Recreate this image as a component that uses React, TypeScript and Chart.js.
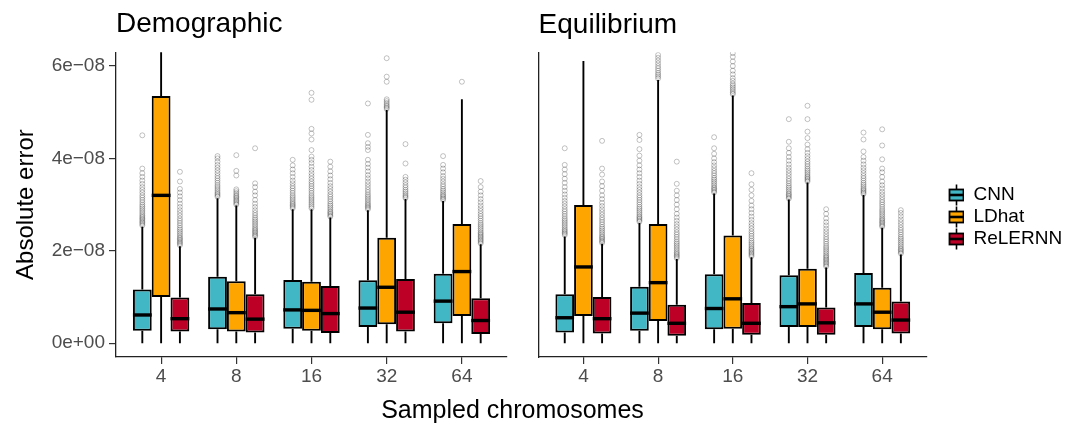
import React, { useEffect, useRef } from 'react';
import { Chart, registerables } from 'chart.js';

Chart.register(...registerables);

const FONT = "'Liberation Sans', Arial, Helvetica, sans-serif";

const CATEGORIES = ['4', '8', '16', '32', '64'];
const SERIES = ['CNN', 'LDhat', 'ReLERNN'];
const COLORS = ['#41B6C4', '#FFA500', '#BD0026'];
const PANEL_TITLES = ['Demographic', 'Equilibrium'];
const X_TITLE = 'Sampled chromosomes';
const Y_TITLE = 'Absolute error';
const Y_TICK_VALUES = [0, 2e-8, 4e-8, 6e-8];
const Y_TICK_LABELS = ['0e+00', '2e\u221208', '4e\u221208', '6e\u221208'];
const Y_MIN = -0.3e-8;
const Y_MAX = 6.3e-8;
const UNIT = 1e-8;

// Box statistics per category: [lower whisker, Q1, median, Q3, upper whisker], in units of 1e-8
const DEM_CNN_BOX = [[0, 0.27, 0.61, 1.16, 2.52], [0, 0.30, 0.74, 1.44, 3.14], [0, 0.31, 0.72, 1.37, 2.90], [0, 0.35, 0.76, 1.36, 2.88], [0, 0.43, 0.91, 1.50, 3.08]];
const DEM_LDHAT_BOX = [[0, 1.00, 3.20, 5.35, 6.60], [0, 0.25, 0.66, 1.34, 2.98], [0, 0.27, 0.71, 1.33, 2.90], [0, 0.41, 1.21, 2.28, 5.05], [0, 0.59, 1.55, 2.58, 5.28]];
const DEM_RELERNN_BOX = [[0, 0.25, 0.53, 0.99, 2.10], [0, 0.23, 0.52, 1.06, 2.28], [0, 0.22, 0.64, 1.24, 2.72], [0, 0.25, 0.67, 1.39, 3.12], [0, 0.20, 0.49, 0.97, 2.14]];
const EQ_CNN_BOX = [[0, 0.23, 0.55, 1.06, 2.31], [0, 0.27, 0.65, 1.22, 2.60], [0, 0.30, 0.75, 1.49, 3.24], [0, 0.35, 0.79, 1.47, 3.11], [0, 0.35, 0.85, 1.52, 3.21]];
const EQ_LDHAT_BOX = [[0, 0.59, 1.65, 2.99, 6.11], [0, 0.48, 1.31, 2.58, 5.70], [0, 0.31, 0.96, 2.33, 5.36], [0, 0.35, 0.85, 1.61, 3.48], [0, 0.30, 0.67, 1.20, 2.50]];
const EQ_RELERNN_BOX = [[0, 0.21, 0.53, 1.00, 2.15], [0, 0.16, 0.43, 0.83, 1.82], [0, 0.18, 0.43, 0.87, 1.86], [0, 0.18, 0.44, 0.77, 1.64], [0, 0.21, 0.50, 0.90, 1.92]];

// Outliers per category, in units of 1e-8
const DEM_CNN_OUT = [
  [2.55, 2.58, 2.61, 2.64, 2.67, 2.7, 2.73, 2.76, 2.8, 2.84, 2.88, 2.92, 2.96, 3.0, 3.05, 3.1, 3.15, 3.2, 3.26, 3.32, 3.38, 3.45, 3.52, 3.6, 3.68, 3.78, 4.5],
  [3.17, 3.2, 3.23, 3.26, 3.3, 3.34, 3.38, 3.42, 3.47, 3.52, 3.57, 3.62, 3.68, 3.74, 3.8, 3.86, 3.93, 4.0, 4.05],
  [2.92, 2.95, 2.98, 3.01, 3.04, 3.08, 3.12, 3.16, 3.2, 3.25, 3.3, 3.35, 3.4, 3.46, 3.52, 3.6, 3.68, 3.76, 3.85, 3.97],
  [2.9, 2.93, 2.96, 2.99, 3.02, 3.06, 3.1, 3.14, 3.18, 3.22, 3.27, 3.32, 3.38, 3.44, 3.5, 3.57, 3.64, 3.72, 3.8, 3.88, 3.97, 4.18, 4.25, 4.33, 4.51, 5.19],
  [3.1, 3.13, 3.16, 3.19, 3.22, 3.26, 3.3, 3.34, 3.39, 3.44, 3.5, 3.56, 3.62, 3.7, 3.78, 3.86, 4.05],
];
const DEM_LDHAT_OUT = [
  [],
  [3.0, 3.03, 3.06, 3.09, 3.12, 3.15, 3.18, 3.21, 3.25, 3.29, 3.33, 3.63, 3.73, 4.07],
  [2.92, 2.96, 3.0, 3.04, 3.08, 3.12, 3.16, 3.2, 3.25, 3.3, 3.35, 3.4, 3.45, 3.5, 3.56, 3.62, 3.68, 3.75, 3.82, 3.9, 3.97, 4.04, 4.18, 4.41, 4.54, 4.64, 5.27, 5.42],
  [5.07, 5.1, 5.13, 5.16, 5.2, 5.24, 5.28, 5.66, 5.77, 6.17],
  [5.66],
];
const DEM_RELERNN_OUT = [
  [2.12, 2.15, 2.18, 2.21, 2.24, 2.27, 2.3, 2.34, 2.38, 2.42, 2.46, 2.5, 2.55, 2.6, 2.65, 2.7, 2.76, 2.82, 2.88, 2.95, 3.02, 3.1, 3.18, 3.26, 3.34, 3.5, 3.71],
  [2.3, 2.33, 2.36, 2.39, 2.42, 2.45, 2.48, 2.52, 2.56, 2.6, 2.64, 2.68, 2.72, 2.77, 2.82, 2.88, 2.95, 3.02, 3.1, 3.2, 3.28, 3.38, 3.46, 4.22],
  [2.74, 2.77, 2.8, 2.83, 2.86, 2.9, 2.94, 2.98, 3.02, 3.07, 3.12, 3.17, 3.22, 3.28, 3.34, 3.4, 3.47, 3.55, 3.63, 3.72, 3.82, 3.93],
  [3.14, 3.17, 3.2, 3.24, 3.28, 3.32, 3.37, 3.42, 3.48, 3.54, 3.6, 3.89, 4.31],
  [2.16, 2.19, 2.22, 2.25, 2.28, 2.31, 2.34, 2.37, 2.4, 2.44, 2.48, 2.52, 2.56, 2.6, 2.65, 2.7, 2.75, 2.8, 2.86, 2.92, 2.98, 3.05, 3.12, 3.2, 3.28, 3.38, 3.51],
];
const EQ_CNN_OUT = [
  [2.34, 2.37, 2.4, 2.43, 2.46, 2.5, 2.54, 2.58, 2.62, 2.66, 2.7, 2.75, 2.8, 2.85, 2.9, 2.96, 3.02, 3.08, 3.15, 3.22, 3.3, 3.38, 3.47, 3.56, 3.66, 3.76, 3.86, 4.22],
  [2.63, 2.66, 2.69, 2.72, 2.75, 2.79, 2.83, 2.87, 2.91, 2.95, 3.0, 3.05, 3.1, 3.15, 3.2, 3.26, 3.32, 3.38, 3.45, 3.52, 3.6, 3.68, 3.76, 3.85, 3.95, 4.06, 4.2, 4.4, 4.51],
  [3.26, 3.29, 3.32, 3.35, 3.38, 3.42, 3.46, 3.5, 3.54, 3.58, 3.63, 3.68, 3.73, 3.79, 3.85, 3.92, 4.0, 4.1, 4.22, 4.46],
  [3.13, 3.16, 3.19, 3.22, 3.25, 3.29, 3.33, 3.37, 3.41, 3.46, 3.51, 3.56, 3.62, 3.68, 3.74, 3.8, 3.87, 3.95, 4.03, 4.12, 4.22, 4.36, 4.85],
  [3.23, 3.26, 3.29, 3.32, 3.35, 3.39, 3.43, 3.47, 3.52, 3.57, 3.62, 3.68, 3.74, 3.8, 3.87, 3.95, 4.03, 4.15, 4.41, 4.56],
];
const EQ_LDHAT_OUT = [
  [],
  [5.73, 5.77, 5.81, 5.85, 5.9, 5.95, 6.0, 6.06, 6.12, 6.18, 6.24],
  [5.39, 5.42, 5.46, 5.5, 5.54, 5.58, 5.62, 5.68, 5.74, 5.82, 5.9, 6.0, 6.1, 6.2, 6.28],
  [3.5, 3.53, 3.56, 3.59, 3.62, 3.66, 3.7, 3.74, 3.78, 3.83, 3.88, 3.93, 3.99, 4.05, 4.12, 4.2, 4.3, 4.44, 4.58, 4.85, 5.14],
  [2.52, 2.55, 2.58, 2.61, 2.64, 2.67, 2.7, 2.74, 2.78, 2.82, 2.86, 2.9, 2.95, 3.0, 3.05, 3.1, 3.16, 3.22, 3.28, 3.35, 3.42, 3.5, 3.6, 3.7, 3.78, 3.98, 4.28, 4.63],
];
const EQ_RELERNN_OUT = [
  [2.17, 2.2, 2.23, 2.26, 2.29, 2.32, 2.36, 2.4, 2.44, 2.48, 2.52, 2.57, 2.62, 2.67, 2.72, 2.78, 2.84, 2.9, 2.97, 3.04, 3.12, 3.2, 3.3, 3.4, 3.5, 3.65, 3.78, 4.38],
  [1.84, 1.87, 1.9, 1.93, 1.96, 2.0, 2.04, 2.08, 2.12, 2.16, 2.2, 2.25, 2.3, 2.35, 2.4, 2.46, 2.52, 2.58, 2.65, 2.72, 2.8, 2.9, 3.0, 3.1, 3.2, 3.3, 3.45, 3.93],
  [1.88, 1.91, 1.94, 1.97, 2.0, 2.03, 2.06, 2.1, 2.14, 2.18, 2.22, 2.27, 2.32, 2.37, 2.42, 2.48, 2.54, 2.6, 2.67, 2.74, 2.82, 2.9, 2.98, 3.08, 3.2, 3.32, 3.44, 3.68],
  [1.66, 1.69, 1.72, 1.75, 1.78, 1.81, 1.84, 1.87, 1.9, 1.94, 1.98, 2.02, 2.06, 2.1, 2.15, 2.2, 2.25, 2.3, 2.36, 2.42, 2.48, 2.55, 2.62, 2.7, 2.8, 2.9],
  [1.94, 1.97, 2.0, 2.03, 2.06, 2.1, 2.14, 2.18, 2.22, 2.26, 2.3, 2.35, 2.4, 2.45, 2.5, 2.56, 2.62, 2.68, 2.75, 2.82, 2.88],
];

const PANEL_BOXES = [
  [DEM_CNN_BOX, DEM_LDHAT_BOX, DEM_RELERNN_BOX],
  [EQ_CNN_BOX, EQ_LDHAT_BOX, EQ_RELERNN_BOX],
];
const PANEL_OUTLIERS = [
  [DEM_CNN_OUT, DEM_LDHAT_OUT, DEM_RELERNN_OUT],
  [EQ_CNN_OUT, EQ_LDHAT_OUT, EQ_RELERNN_OUT],
];

const boxplotPlugin = {
  id: 'boxplotParts',
  beforeDatasetsDraw(chart: any) {
    const { ctx, chartArea } = chart;
    const y = chart.scales.y;
    ctx.save();
    ctx.beginPath();
    ctx.rect(chartArea.left, chartArea.top, chartArea.right - chartArea.left, chartArea.bottom - chartArea.top);
    ctx.clip();
    ctx.strokeStyle = '#000';
    ctx.lineWidth = 1.9;
    chart.data.datasets.forEach((ds: any, k: number) => {
      if (!ds.boxStats) return;
      const meta = chart.getDatasetMeta(k);
      meta.data.forEach((el: any, i: number) => {
        const s = ds.boxStats[i];
        ctx.beginPath();
        ctx.moveTo(el.x, y.getPixelForValue(s[3] * UNIT));
        ctx.lineTo(el.x, y.getPixelForValue(s[4] * UNIT));
        ctx.moveTo(el.x, y.getPixelForValue(s[1] * UNIT));
        ctx.lineTo(el.x, y.getPixelForValue(s[0] * UNIT));
        ctx.stroke();
      });
    });
    ctx.restore();
  },
  afterDatasetsDraw(chart: any) {
    const { ctx } = chart;
    const y = chart.scales.y;
    ctx.save();
    ctx.strokeStyle = '#000';
    ctx.lineWidth = 3.4;
    chart.data.datasets.forEach((ds: any, k: number) => {
      if (!ds.boxStats) return;
      const meta = chart.getDatasetMeta(k);
      meta.data.forEach((el: any, i: number) => {
        const s = ds.boxStats[i];
        const py = y.getPixelForValue(s[2] * UNIT);
        ctx.beginPath();
        ctx.moveTo(el.x - el.width / 2, py);
        ctx.lineTo(el.x + el.width / 2, py);
        ctx.stroke();
      });
    });
    ctx.restore();
  },
};

function makeIcon(color: string) {
  const c = document.createElement('canvas');
  c.width = 34;
  c.height = 22;
  const g = c.getContext('2d') as CanvasRenderingContext2D;
  const cx = 26.5;
  g.strokeStyle = '#000';
  g.lineWidth = 1.6;
  g.beginPath();
  g.moveTo(cx, 0.5);
  g.lineTo(cx, 21.5);
  g.stroke();
  g.fillStyle = color;
  g.fillRect(19.5, 5.5, 14, 11);
  g.lineWidth = 1.8;
  g.strokeRect(19.5, 5.5, 14, 11);
  g.lineWidth = 2.6;
  g.beginPath();
  g.moveTo(19.5, 11);
  g.lineTo(33.5, 11);
  g.stroke();
  return c;
}

function buildConfig(panel: number, withLegend: boolean, withYLabels: boolean, yWidth: number, padding: any, titlePad: any) {
  const boxes = PANEL_BOXES[panel];
  const outliers = PANEL_OUTLIERS[panel];
  const barSets = SERIES.map((name, k) => ({
    type: 'bar',
    label: name,
    data: boxes[k].map((b, i) => ({ x: i, y: [b[1] * UNIT, b[3] * UNIT] })),
    backgroundColor: COLORS[k],
    borderColor: '#000',
    borderWidth: 2,
    borderSkipped: false,
    categoryPercentage: 0.75,
    barPercentage: 1,
    boxStats: boxes[k],
  }));
  const outSets = SERIES.map((name, k) => ({
    type: 'scatter',
    label: name + ' outliers',
    data: outliers[k].flatMap((vals: number[], i: number) => vals.map((v) => ({ x: i + (k - 1) * 0.25, y: v * UNIT }))),
    pointRadius: 2.5,
    pointBorderWidth: 1,
    pointBorderColor: 'rgba(0,0,0,0.24)',
    pointBackgroundColor: 'rgba(0,0,0,0)',
    showLine: false,
  }));
  const icons = COLORS.map((c) => makeIcon(c));
  const axisGrid = { display: true, drawOnChartArea: false, drawTicks: true, tickLength: 7, color: '#333333', lineWidth: 1.2, offset: false };
  const border = { display: true, color: '#222222', width: 1.3 };
  return {
    type: 'bar',
    data: { datasets: [...barSets, ...outSets] },
    options: {
      responsive: false,
      animation: false,
      devicePixelRatio: 1,
      events: [],
      layout: { padding },
      plugins: {
        tooltip: { enabled: false },
        title: {
          display: true,
          text: PANEL_TITLES[panel],
          align: 'start',
          fullSize: false,
          color: '#000',
          font: { size: 28, weight: 'normal', family: FONT },
          padding: titlePad,
        },
        legend: withLegend
          ? {
              display: true,
              position: 'right',
              align: 'center',
              maxWidth: 140,
              labels: {
                usePointStyle: true,
                pointStyleWidth: 34,
                boxHeight: 12,
                padding: 3,
                color: '#000',
                font: { size: 19, family: FONT },
                generateLabels: () =>
                  SERIES.map((name, k) => ({
                    text: name,
                    pointStyle: icons[k],
                    fillStyle: COLORS[k],
                    strokeStyle: '#000',
                    lineWidth: 0,
                    hidden: false,
                    datasetIndex: k,
                    fontColor: '#000',
                  })),
              },
            }
          : { display: false },
      },
      scales: {
        x: {
          type: 'linear',
          min: -0.6,
          max: 4.6,
          offset: false,
          afterBuildTicks: (s: any) => {
            s.ticks = CATEGORIES.map((_, i) => ({ value: i }));
          },
          afterFit: (s: any) => {
            s.height = 69;
          },
          ticks: {
            autoSkip: false,
            maxRotation: 0,
            padding: 1,
            color: '#4D4D4D',
            font: { size: 19, family: FONT },
            callback: (v: number) => CATEGORIES[Math.round(v)] ?? '',
          },
          grid: axisGrid,
          border,
        },
        y: {
          type: 'linear',
          min: Y_MIN,
          max: Y_MAX,
          afterBuildTicks: (s: any) => {
            s.ticks = Y_TICK_VALUES.map((v) => ({ value: v }));
          },
          afterFit: (s: any) => {
            s.width = yWidth;
          },
          ticks: {
            display: withYLabels,
            padding: 4,
            color: '#4D4D4D',
            font: { size: 19, family: FONT },
            callback: (v: number) => {
              const idx = Y_TICK_VALUES.findIndex((t) => Math.abs(t - v) < 1e-12);
              return idx >= 0 ? Y_TICK_LABELS[idx] : '';
            },
          },
          grid: withYLabels ? axisGrid : { display: false },
          border,
          title: withYLabels
            ? { display: true, text: Y_TITLE, color: '#000', font: { size: 24, family: FONT }, padding: { top: 12, bottom: 0 } }
            : { display: false },
        },
      },
    },
    plugins: [boxplotPlugin],
  };
}

export default function App() {
  const ref1 = useRef<HTMLCanvasElement>(null);
  const ref2 = useRef<HTMLCanvasElement>(null);

  useEffect(() => {
    Chart.defaults.font.family = FONT;
    const c1 = new Chart(ref1.current as HTMLCanvasElement, buildConfig(0, false, true, 116, { left: 0, top: 0, right: 13, bottom: 0 }, { top: 7.5, bottom: 11.1 }) as any);
    const c2 = new Chart(ref2.current as HTMLCanvasElement, buildConfig(1, true, false, 18.6, { left: 0, top: 8, right: 13, bottom: 0 }, { top: 0, bottom: 10.6 }) as any);
    return () => {
      c1.destroy();
      c2.destroy();
    };
  }, []);

  return (
    <div style={{ position: 'absolute', left: 0, top: 0, width: 1080, height: 426, background: '#fff', fontFamily: FONT, overflow: 'hidden' }}>
      <canvas ref={ref1} width={520} height={426} style={{ position: 'absolute', left: 0, top: 0 }} />
      <canvas ref={ref2} width={560} height={426} style={{ position: 'absolute', left: 520, top: 0 }} />
      <div style={{ position: 'absolute', left: 0, width: 1025, top: 397, textAlign: 'center', fontSize: 25, lineHeight: '25px', color: '#000', whiteSpace: 'nowrap' }}>
        {X_TITLE}
      </div>
    </div>
  );
}
